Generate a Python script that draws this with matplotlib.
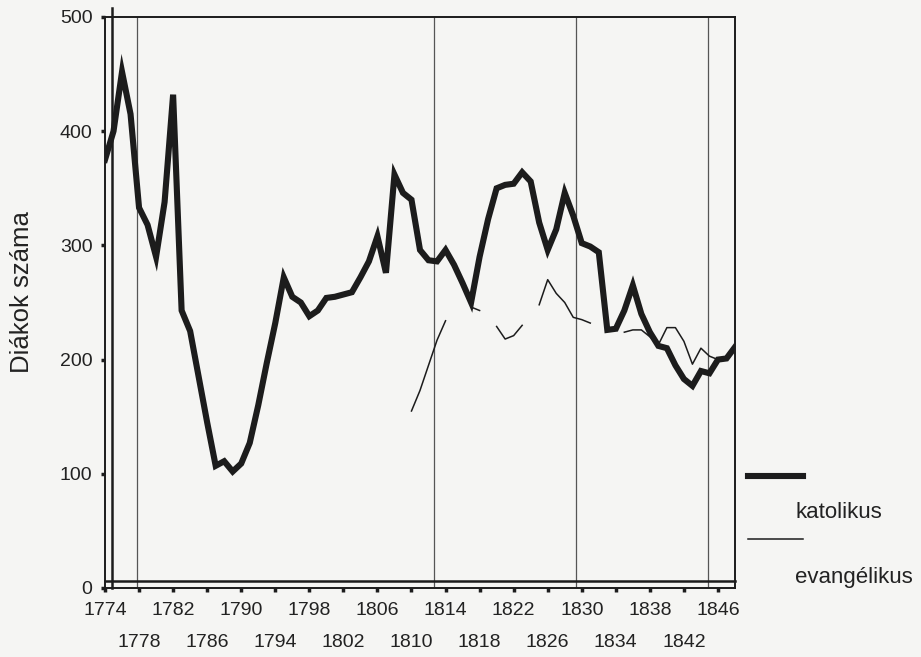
import numpy as np
import matplotlib.pyplot as plt
from matplotlib.lines import Line2D

plt.rcParams['font.family'] = ['Liberation Sans', 'DejaVu Sans']

years = list(range(1774, 1849))

# number of students per year
katolikus = [375, 400, 452, 415, 333, 318, 290, 338, 432, 243,
             225, 185, 145, 107, 111, 102, 109, 127, 160, 197,
             232, 272, 255, 250, 238, 243, 254, 255, 257, 259,
             272, 286, 308, 276, 362, 346, 340, 296, 287, 286,
             296, 283, 267, 250, 290, 323, 350, 353, 354, 364,
             356, 320, 296, 314, 346, 326, 302, 299, 294, 226,
             227, 243, 265, 240, 224, 212, 210, 195, 183, 177,
             190, 188, 200, 201, 211]

nan = np.nan
evangelikus = [nan] * 36 + [155, 173, 195, 217, 234, nan, nan, 246, 243, nan,
                            229, 218, 221, 230, nan, 248, 270, 258, 250, 237,
                            235, 232, nan, nan, nan, 224, 226, 226, 220, 213,
                            228, 228, 216, 196, 210, 203, 200, 201, 211]

event_years = [1777.8, 1812.7, 1829.3, 1844.8]

row1_ticks = list(range(1774, 1847, 8))
row2_ticks = list(range(1778, 1843, 8))
y_ticks = [0, 100, 200, 300, 400, 500]

ink = '#1c1c1c'
paper = '#f5f5f3'

fig = plt.figure(figsize=(9.21, 6.57), dpi=100, facecolor=paper)
ax = fig.add_axes([105 / 921, 1 - 588 / 657, 630 / 921, 571 / 657])
ax.set_facecolor(paper)

for yr in event_years:
    ax.axvline(yr, color='#555555', lw=0.9, zorder=1)

ax.plot(years, katolikus, color=ink, lw=4.4, solid_joinstyle='miter', zorder=3)
ax.plot(years, evangelikus, color=ink, lw=1.1, zorder=2)

ax.set_xlim(1774, 1848)
ax.set_ylim(0, 500)

# inner frame lines
ax.plot([0.0106, 0.0106], [0, 1.015], transform=ax.transAxes, color=ink, lw=1.8, clip_on=False)
ax.plot([0, 1], [0.012, 0.012], transform=ax.transAxes, color=ink, lw=1.8, clip_on=False)
for s in ax.spines.values():
    s.set_color(ink)
    s.set_linewidth(1.4)

ax.set_yticks(y_ticks)
ax.set_xticks(row1_ticks, [str(t) for t in row1_ticks])
ax.set_xticks(row2_ticks, [str(t) for t in row2_ticks], minor=True)
ax.tick_params(axis='both', which='both', direction='out', length=3, width=2.5,
               color=ink, labelcolor='#222222', labelsize=14)
ax.tick_params(axis='x', which='major', pad=7)
ax.tick_params(axis='x', which='minor', pad=30)
ax.tick_params(axis='y', pad=6)

fig.text(22 / 921, 1 - 292 / 657, 'Diákok száma', fontsize=18.5, color='#222222',
         rotation=90, ha='center', va='center')

# legend drawn beside the plot
fig.add_artist(Line2D([748 / 921, 803 / 921], [1 - 476 / 657] * 2, color=ink, lw=4.4))
fig.add_artist(Line2D([748 / 921, 803 / 921], [1 - 539 / 657] * 2, color=ink, lw=1.1))
fig.text(795 / 921, 1 - 513 / 657, 'katolikus', fontsize=16, color='#222222', va='center')
fig.text(795 / 921, 1 - 577 / 657, 'evangélikus', fontsize=16, color='#222222', va='center')

fig.savefig('out.png', dpi=100, facecolor=paper)
